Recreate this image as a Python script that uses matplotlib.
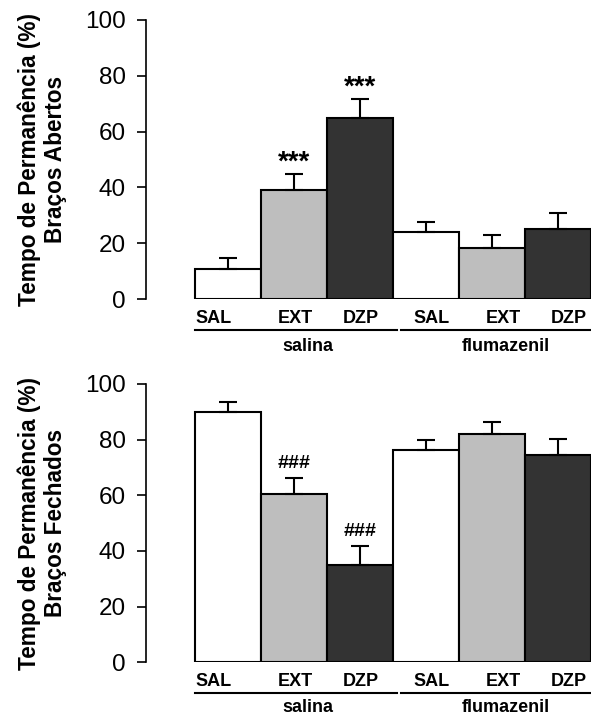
import matplotlib.pyplot as plt
import numpy as np

plt.rcParams['font.family'] = ['Liberation Sans', 'DejaVu Sans']

grupos = ['salina', 'flumazenil']
tratamentos = ['SAL', 'EXT', 'DZP', 'SAL', 'EXT', 'DZP']
cores = ['white', '#bebebe', '#333333', 'white', '#bebebe', '#333333']

# braços abertos (%)
abertos = [10.9, 39.1, 65.0, 24.1, 18.4, 25.2]
abertos_ep = [3.7, 5.7, 6.7, 3.4, 4.5, 5.7]
abertos_sig = ['', '***', '***', '', '', '']

# braços fechados (%)
fechados = [89.8, 60.5, 35.1, 76.4, 81.9, 74.6]
fechados_ep = [3.6, 5.8, 6.8, 3.3, 4.4, 5.5]
fechados_sig = ['', '###', '###', '', '', '']

# posicao dos rotulos (um pouco deslocados como no original)
pos_rotulos = [-0.22, 1.02, 2.02, 3.08, 4.17, 5.17]
pos_grupos = [1.21, 4.21]

x = np.arange(len(tratamentos))

fig = plt.figure(figsize=(5.91, 7.16), dpi=100)
ax1 = fig.add_axes([0.247, 0.5824, 0.753, 0.3897])
ax2 = fig.add_axes([0.247, 0.075, 0.753, 0.3887])


def painel(ax, vals, ep, sig, titulo, fs_sig, off_sig, y_grupo):
    ax.bar(x, vals, width=1.0, color=cores, edgecolor='black', linewidth=1.5, zorder=2)
    ax.errorbar(x, vals, yerr=[np.zeros(len(vals)), ep], fmt='none', ecolor='black',
                elinewidth=1.5, capsize=6.5, capthick=1.5, zorder=3)
    for xi, v, e, s in zip(x, vals, ep, sig):
        if s:
            ax.text(xi, v + e + off_sig, s, ha='center', va='center', fontsize=fs_sig,
                    fontweight='bold')
    ax.set_xlim(-1.242, 5.5)
    ax.set_ylim(0, 100)
    ax.set_yticks([0, 20, 40, 60, 80, 100])
    ax.tick_params(axis='y', labelsize=17.5, length=6.5, width=1.2, pad=8)
    ax.set_xticks(pos_rotulos)
    ax.set_xticklabels(tratamentos, fontsize=13, fontweight='bold')
    ax.tick_params(axis='x', length=0, pad=8)
    for lado in ['top', 'right', 'bottom']:
        ax.spines[lado].set_visible(False)
    ax.spines['left'].set_linewidth(1.2)
    ax.spines['left'].set_bounds(0, 100)
    tr = ax.get_xaxis_transform()
    ax.plot([-0.5, 2.56], [-0.111, -0.111], color='black', lw=1.5, transform=tr, clip_on=False)
    ax.plot([2.62, 5.5], [-0.111, -0.111], color='black', lw=1.5, transform=tr, clip_on=False)
    for g, p in zip(grupos, pos_grupos):
        ax.text(p, y_grupo, g, transform=tr, ha='center', va='center', fontsize=13,
                fontweight='bold')
    ax.text(-0.233, 0.5, titulo, transform=ax.transAxes, rotation=90,
            ha='center', va='center', fontsize=16.3, fontweight='bold', linespacing=1.2,
            multialignment='center')


painel(ax1, abertos, abertos_ep, abertos_sig,
       'Tempo de Permanência (%)\nBraços Abertos', 20, 4, -0.172)
painel(ax2, fechados, fechados_ep, fechados_sig,
       'Tempo de Permanência (%)\nBraços Fechados', 14, 5, -0.162)

fig.savefig('out.png', dpi=100)
